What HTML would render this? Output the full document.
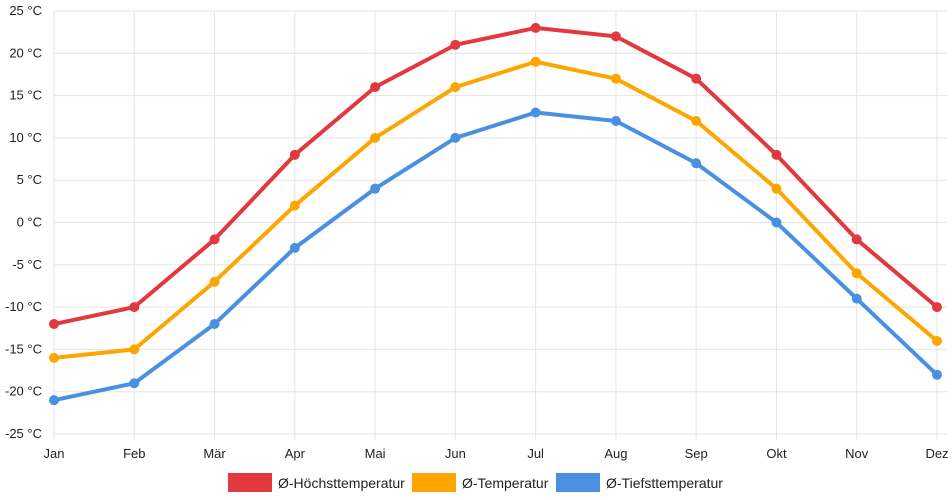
<!DOCTYPE html>
<html><head><meta charset="utf-8"><style>
body{margin:0;background:#fff;}
svg{display:block;font-family:"Liberation Sans",sans-serif;}
</style></head><body>
<svg id="c" width="952" height="500"></svg>
<script>
const months=["Jan","Feb","Mär","Apr","Mai","Jun","Jul","Aug","Sep","Okt","Nov","Dez"];
const highTemps=[-12,-10,-2,8,16,21,23,22,17,8,-2,-10];
const avgTemps=[-16,-15,-7,2,10,16,19,17,12,4,-6,-14];
const lowTemps=[-21,-19,-12,-3,4,10,13,12,7,0,-9,-18];
const yTicks=[25,20,15,10,5,0,-5,-10,-15,-20,-25];
const seriesNames=["Ø-Höchsttemperatur","Ø-Temperatur","Ø-Tiefsttemperatur"];

const NS="http://www.w3.org/2000/svg";
const svg=document.getElementById('c');
const x0=54,x1=937,yTop=11,yBot=434,yMax=25,yMin=-25;
const xs=i=>x0+i*(x1-x0)/(months.length-1);
const ys=v=>yTop+(yMax-v)*(yBot-yTop)/(yMax-yMin);
function mk(t,a,p){const e=document.createElementNS(NS,t);for(const k in a)e.setAttribute(k,a[k]);(p||svg).appendChild(e);return e;}

const grid=mk('g',{});


yTicks.forEach(v=>{
  const l=mk('line',{x1:x0,x2:x1+10,y1:ys(v),y2:ys(v),stroke:'#e5e5e5','stroke-width':1},grid);
  
  
  const t=mk('text',{x:42,y:ys(v)+4,'text-anchor':'end','font-size':13,fill:'#222'});
  t.textContent=v+' °C';
  
  
});
months.forEach((m,i)=>{
  const l=mk('line',{x1:xs(i),x2:xs(i),y1:yTop,y2:yBot+6,stroke:'#e5e5e5','stroke-width':1},grid);
  
  
  const t=mk('text',{x:xs(i),y:458,'text-anchor':'middle','font-size':13,fill:'#222'});
  t.textContent=m;
  
  
});

const colors=["#e2383f","#ffa500","#4a90e2"];
[highTemps,avgTemps,lowTemps].forEach((d,si)=>{
  const g=mk('g',{});
  
  
  const p=mk('polyline',{points:d.map((v,i)=>xs(i)+','+ys(v)).join(' '),fill:'none',stroke:colors[si],'stroke-width':4,'stroke-linejoin':'round'},g);
  
  
  d.forEach((v,i)=>{
    const c=mk('circle',{cx:xs(i),cy:ys(v),r:5,fill:colors[si]},g);
    
    
  });
});

const legX=[228,412,556];
seriesNames.forEach((n,i)=>{
  const g=mk('g',{});
  
  
  mk('rect',{x:legX[i],y:473,width:44,height:19,fill:colors[i]},g);
  const t=mk('text',{x:legX[i]+50,y:488,'font-size':14,fill:'#222'},g);
  t.textContent=n;
});
</script>
</body></html>
